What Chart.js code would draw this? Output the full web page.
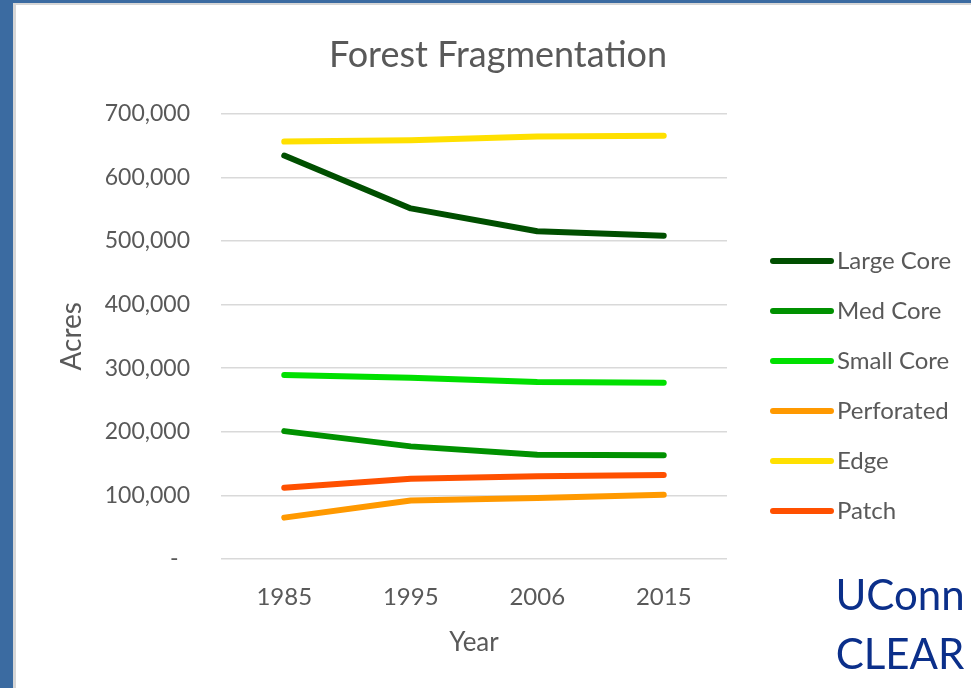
<!DOCTYPE html>
<html>
<head>
<meta charset="utf-8">
<script src="https://cdn.jsdelivr.net/npm/chart.js@4/dist/chart.umd.min.js"></script>
<style>
  html, body { margin: 0; padding: 0; width: 971px; height: 688px; overflow: hidden; background: #3b6ba1; }
  #panel { position: absolute; left: 13px; top: 3px; width: 958px; height: 685px; background: #ffffff;
           border-left: 3px solid #d6d6d6; border-top: 2px solid #d6d6d6; box-sizing: border-box; }
  #wrap { position: absolute; left: 25px; top: 0px; width: 946px; height: 688px; }
  .brand { position: absolute; left: 830px; width: 140px; text-align: center; font-family: Lato, sans-serif;
           font-size: 42px; color: #0b2f8a; line-height: 42px; }
</style>
</head>
<body>
<div id="panel"></div>
<div id="wrap"><canvas id="c" width="946" height="688"></canvas></div>
<div class="brand" style="top:573px;">UConn</div>
<div class="brand" style="top:632px;">CLEAR</div>
<script>
const years = ['1985', '1995', '2006', '2015'];
const seriesNames = ['Large Core', 'Med Core', 'Small Core', 'Perforated', 'Edge', 'Patch'];
const largeCore  = [634000, 551000, 515000, 508000];
const medCore    = [201000, 177000, 164000, 163000];
const smallCore  = [289000, 285000, 278000, 277000];
const perforated = [65000, 92000, 96000, 101000];
const edge       = [656000, 658000, 664000, 665000];
const patch      = [112000, 126000, 130000, 132000];
const yTickValues = [0, 100000, 200000, 300000, 400000, 500000, 600000, 700000];
const yTickLabels = ['-', '100,000', '200,000', '300,000', '400,000', '500,000', '600,000', '700,000'];

const colors = ['#004f00', '#009100', '#00e000', '#ff9900', '#ffe000', '#ff5000'];
const values = [largeCore, medCore, smallCore, perforated, edge, patch];
const drawOrder = [4, 0, 2, 1, 5, 3];

const datasets = seriesNames.map((name, i) => ({
  label: name,
  data: values[i],
  borderColor: colors[i],
  backgroundColor: colors[i],
  borderWidth: 6,
  borderCapStyle: 'round',
  borderJoinStyle: 'round',
  pointRadius: 0,
  pointHoverRadius: 0,
  tension: 0,
  order: drawOrder[i],
  yAxisID: 'y'
}));

const textGray = '#595959';
const FONT = 'Lato, "Open Sans", sans-serif';

const legendPlugin = {
  id: 'sideLegend',
  afterDraw(chart) {
    const ctx = chart.ctx;
    ctx.save();
    chart.data.datasets.forEach((ds, i) => {
      const y = 261 + 50 * i;
      ctx.strokeStyle = ds.borderColor;
      ctx.lineWidth = 6;
      ctx.lineCap = 'round';
      ctx.beginPath();
      ctx.moveTo(748, y);
      ctx.lineTo(806, y);
      ctx.stroke();
      ctx.fillStyle = textGray;
      ctx.font = '24px ' + FONT;
      ctx.textBaseline = 'middle';
      ctx.textAlign = 'left';
      ctx.fillText(ds.label, 812, y);
    });
    ctx.restore();
  }
};

new Chart(document.getElementById('c'), {
  type: 'line',
  data: { labels: years, datasets: datasets },
  plugins: [legendPlugin],
  options: {
    responsive: false,
    animation: false,
    layout: { padding: 0 },
    plugins: {
      legend: { display: false },
      tooltip: { enabled: false },
      title: {
        display: true,
        text: 'Forest Fragmentation',
        color: textGray,
        font: { family: FONT, size: 36, weight: 'normal', lineHeight: 1.2 },
        padding: { top: 34, bottom: 36.4 }
      }
    },
    scales: {
      x: {
        offset: true,
        grid: { display: false, drawTicks: false },
        border: { display: false },
        ticks: { color: textGray, font: { family: FONT, size: 24 }, padding: 24, maxRotation: 0 },
        title: { display: true, text: 'Year', color: textGray, font: { family: FONT, size: 26, lineHeight: 1.2 }, padding: { top: 0, bottom: 30 } },
        afterFit(s) { s.height = 129; }
      },
      y: {
        min: 0, max: 700000,
        afterBuildTicks(s) { s.ticks = yTickValues.map(v => ({ value: v })); },
        grid: { color: '#d9d9d9', lineWidth: 1.4, drawTicks: false },
        border: { display: false },
        ticks: {
          color: textGray, font: { family: FONT, size: 23 }, padding: 31,
          callback(v) { const k = yTickValues.indexOf(v); const t = k >= 0 ? yTickLabels[k] : ''; return t === '-' ? '-\u2002' : t; }
        },
        title: { display: true, text: 'Acres', color: textGray, font: { family: FONT, size: 28, lineHeight: 1.2 }, padding: { top: 30, bottom: 0 } },
        afterFit(s) { s.width = 196; }
      },
      legendSpace: {
        type: 'linear',
        position: 'right',
        display: true,
        min: 0, max: 1,
        grid: { display: false, drawTicks: false },
        border: { display: false },
        ticks: { display: false },
        afterFit(s) { s.width = 244; }
      }
    }
  }
});
</script>
</body>
</html>
